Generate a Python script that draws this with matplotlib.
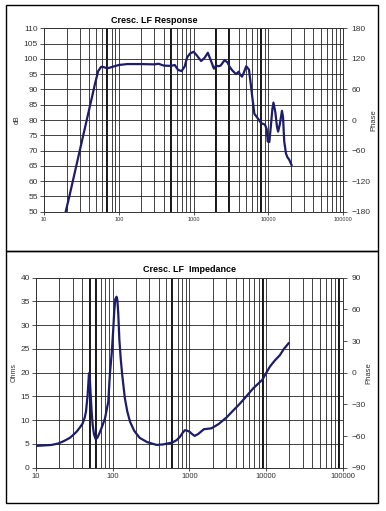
import numpy as np
import matplotlib
matplotlib.use('Agg')
from matplotlib import pyplot as plt
from matplotlib.patches import Rectangle
from matplotlib.ticker import LogLocator, FixedLocator, NullFormatter

plt.rcParams['font.family'] = ['Liberation Sans', 'DejaVu Sans']

# response curve (Hz, dB)
resp_f = [19.5, 22, 26, 32, 39, 44, 48, 53, 58, 63, 70, 80, 100, 130, 200, 300, 340, 400,
          500, 560, 620, 690, 760, 820, 900, 1000, 1100, 1260, 1400, 1550, 1700, 1870,
          2000, 2150, 2300, 2600, 2850, 3050, 3300, 3700, 4000, 4200, 4450, 4700, 5050,
          5500, 5800, 6060, 6500, 7000, 8000, 9000, 9500, 9800, 10300, 10800, 11300,
          11700, 12400, 13000, 13500, 14200, 15200, 15700, 16300, 17200, 18000, 19000, 20400]
resp_db = [50, 55.4, 63.2, 72.9, 82.1, 87.7, 91.8, 96, 97.4, 97.3, 96.9, 97.3, 98, 98.3, 98.3,
           98.2, 98.4, 97.8, 97.7, 98, 96.4, 96, 97.5, 100.5, 101.8, 102.3, 101.2, 99.3,
           100.3, 102, 99.5, 96.8, 97.8, 97.6, 97.8, 99.6, 98.8, 97.3, 96.2, 95, 95.8,
           94.8, 94.2, 95.5, 97.6, 96.5, 92, 88, 82, 81, 79, 78.5, 77, 73, 72.8, 78,
           83.5, 85.7, 82.5, 78, 76.2, 78.5, 83, 81, 73, 69, 67.8, 67, 65.3]

# impedance curve (Hz, ohms)
imp_f = [10, 13, 16, 19.5, 23, 27.7, 30, 33.9, 37, 40.5, 43, 44.8, 47.1, 49, 50, 51.6,
         53, 54.8, 57, 60, 63, 66.8, 72, 79.3, 87.5, 92, 96.9, 101, 104.7, 108, 112, 115,
         118, 122, 127, 133, 144, 155, 168, 190, 224, 280, 373, 450, 520, 597, 680, 751,
         820, 873, 930, 1000, 1080, 1170, 1300, 1540, 1946, 2400, 3050, 3800, 4550, 5500,
         6770, 8890, 11200, 13000, 15100, 17000, 19600]
imp_ohm = [4.6, 4.7, 4.8, 5.1, 5.6, 6.3, 6.8, 7.6, 8.4, 9.3, 10.5, 11.8, 15.3, 19.9, 19.5,
           15.3, 12, 9, 7, 6.0, 6.3, 7.2, 8.5, 10.4, 13.9, 19.9, 24, 28.5, 33, 35.5, 36,
           35.3, 32.5, 27, 23, 19.5, 14.6, 11.8, 9.7, 7.8, 6.3, 5.4, 4.8, 4.9, 5.1, 5.3,
           5.8, 6.5, 7.4, 7.9, 7.8, 7.6, 7.1, 6.7, 7.1, 8.1, 8.3, 9.2, 10.6, 12.2, 13.5,
           15, 16.7, 18.5, 21.3, 22.6, 23.7, 25, 26.2]

xticks = [10, 100, 1000, 10000, 100000]
xticklabels = ['10', '100', '1000', '10000', '100000']
resp_yticks = list(range(50, 111, 5))
resp_phase = list(range(-180, 181, 60))
imp_yticks = list(range(0, 41, 5))
imp_phase = list(range(-90, 91, 30))
resp_marks = [70, 500, 2000, 3000, 8000]
imp_marks = [50, 60, 600, 9000, 90000]

line_c = '#1c1c6c'
txt_c = '#333333'

fig = plt.figure(figsize=(3.86, 5.11), dpi=100)

# outer frames
fig.patches.append(Rectangle((0.0155, 0.5088), 0.9637, 0.4814, transform=fig.transFigure,
                             fill=False, edgecolor='black', lw=1.0))
fig.patches.append(Rectangle((0.0155, 0.0157), 0.9637, 0.4931, transform=fig.transFigure,
                             fill=False, edgecolor='black', lw=1.0))


def setup(ax, yt, ylim, marks, ph, phlim, title, ylab, xfs, title_x):
    ax.set_xscale('log')
    ax.set_xlim(10, 100000)
    ax.set_ylim(*ylim)
    ax.set_yticks(yt)
    ax.tick_params(axis='y', labelsize=6, colors=txt_c, length=3, width=0.6, pad=1.5)
    ax.xaxis.set_major_locator(FixedLocator(xticks))
    ax.set_xticklabels(xticklabels)
    ax.xaxis.set_minor_locator(LogLocator(base=10, subs=np.arange(2, 10)))
    ax.xaxis.set_minor_formatter(NullFormatter())
    ax.tick_params(axis='x', which='major', labelsize=xfs, colors=txt_c, length=2, width=0.6, pad=2)
    ax.tick_params(axis='x', which='minor', length=0)
    ax.grid(True, which='both', axis='x', color='#222222', lw=0.6)
    ax.grid(True, which='major', axis='y', color='#222222', lw=0.6)
    for m in marks:
        ax.axvline(m, color='black', lw=1.3, zorder=1.5)
    for s in ax.spines.values():
        s.set_linewidth(0.7)
        s.set_color('#333333')
    ax.set_ylabel(ylab, fontsize=5, color=txt_c, labelpad=2)
    ax.set_title(title, fontsize=6.5, fontweight='bold', pad=4, x=title_x)
    ax2 = ax.twinx()
    ax2.set_ylim(*phlim)
    ax2.set_yticks(ph)
    ax2.tick_params(axis='y', labelsize=6, colors=txt_c, length=3, width=0.6, pad=3)
    ax2.set_ylabel('Phase', fontsize=5.5, color=txt_c, labelpad=0)
    for s in ax2.spines.values():
        s.set_visible(False)
    return ax2


ax1 = fig.add_axes([0.114, 0.5857, 0.775, 0.3589])
setup(ax1, resp_yticks, (50, 110), resp_marks, resp_phase, (-180, 180),
      'Cresc. LF Response', 'dB', 4, 0.37)
ax1.plot(resp_f, resp_db, color=line_c, lw=1.6, zorder=3)

ax2 = fig.add_axes([0.0933, 0.0847, 0.795, 0.3718])
setup(ax2, imp_yticks, (0, 40), imp_marks, imp_phase, (-90, 90),
      'Cresc. LF  Impedance', 'Ohms', 5.5, 0.5)
ax2.plot(imp_f, imp_ohm, color=line_c, lw=1.6, zorder=3)

fig.savefig('out.png', dpi=100)
